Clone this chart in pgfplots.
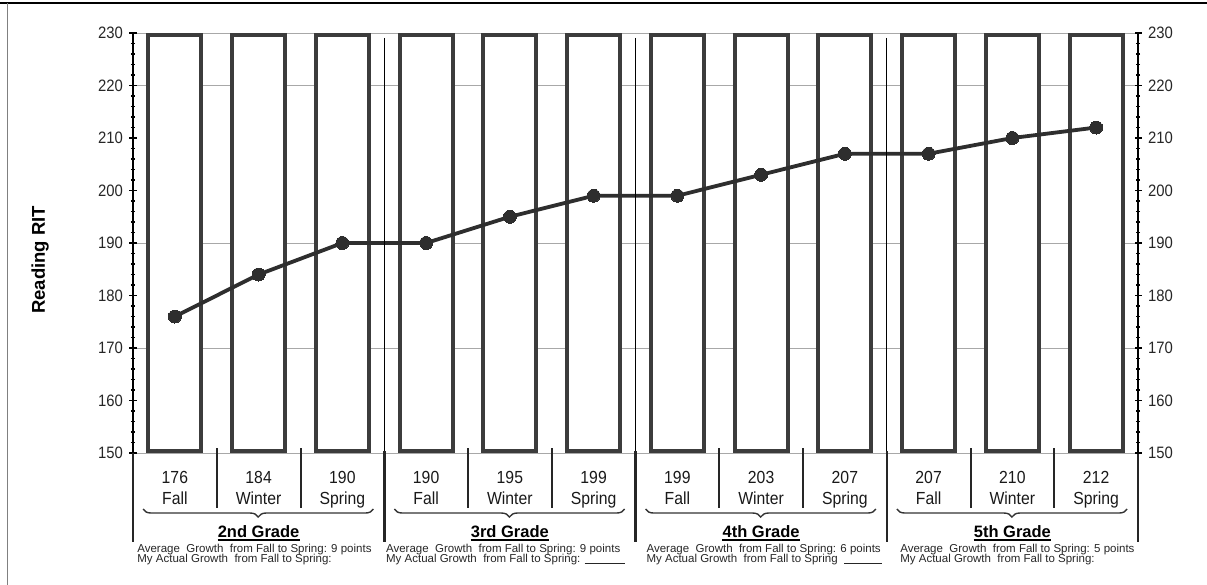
\documentclass[border=0pt]{standalone}
\usepackage{fontspec}
\setmainfont{Liberation Sans}
\newfontfamily\condfont[FakeStretch=0.9]{Liberation Sans}
\newfontfamily\tickfont[FakeStretch=0.9]{Liberation Sans}
\usepackage{pgfplots}
\pgfplotsset{compat=1.18}
\usetikzlibrary{decorations.pathreplacing}
\definecolor{bardk}{HTML}{3C3C3C}
\definecolor{linedk}{HTML}{2E2E2E}
\definecolor{gridg}{HTML}{A8A8A8}
\pgfplotsset{base/.style={
  at={(133pt,-453pt)}, anchor=south west,
  scale only axis, width=1005pt, height=420pt,
  xmin=-0.5, xmax=11.5, ymin=150, ymax=230,
}}
\newcommand{\slot}[3]{%
  \node[font=\condfont\fontsize{17.5}{17.5}\selectfont, text=black!90, anchor=base, inner sep=0pt] at (axis cs:#1,144.19) {#2};
  \node[font=\condfont\fontsize{17.5}{17.5}\selectfont, text=black!90, anchor=base, inner sep=0pt] at (axis cs:#1,140.19) {#3};}
\newcommand{\grade}[3]{%
  \node[font=\bfseries\fontsize{16.5}{16.5}\selectfont, inner sep=0pt, anchor=base] (#3) at (axis cs:#1,133.9) {#2};
  \draw[black, line width=1.8pt] ([yshift=-2.5pt]#3.base west) -- ([yshift=-2.5pt]#3.base east);}
\begin{document}
\begin{tikzpicture}[x=1pt,y=1pt]
\useasboundingbox (0,0) rectangle (1207,-585);
\draw[black, line width=1.2pt] (0,-3) -- (1207,-3);
\draw[gray, line width=1pt] (7,-3.5) -- (7,-585);

% grid and bars
\begin{axis}[base, clip=false,
  axis line style={draw=none},
  xtick=\empty, ytick={150,170,190,220,230}, yticklabels={},
  major tick length=0pt,
  ymajorgrids, major grid style={gridg, line width=1pt},
  ybar stacked, bar width=53pt]
\addplot[draw=none, fill=none] coordinates {(0,150.38) (1,150.38) (2,150.38) (3,150.38) (4,150.38) (5,150.38) (6,150.38) (7,150.38) (8,150.38) (9,150.38) (10,150.38) (11,150.38)};
\addplot[draw=bardk, line width=4pt, fill=white] coordinates {(0,79.24) (1,79.24) (2,79.24) (3,79.24) (4,79.24) (5,79.24) (6,79.24) (7,79.24) (8,79.24) (9,79.24) (10,79.24) (11,79.24)};
\end{axis}

% left axis, line, annotations
\begin{axis}[base, clip=false,
  axis y line*=left, axis x line=none,
  y axis line style={black, line width=1.3pt, -},
  xtick=\empty,
  ytick={150,160,...,230}, minor y tick num=4,
  tick align=center, major tick length=7pt, minor tick length=4pt,
  every tick/.style={black, line width=1.6pt},
  /pgf/number format/assume math mode=true,
  yticklabel style={font=\tickfont\fontsize{16.5}{16.5}\selectfont, text=black!85, xshift=-3pt},
  ylabel={Reading RIT},
  ylabel style={font=\bfseries\fontsize{18.5}{18.5}\selectfont, at={(axis description cs:-0.0925,0.46)}, anchor=center},
]
\addplot[color=linedk, line width=3.8pt, mark=*, mark size=6.5pt,
  mark options={fill=linedk, draw=linedk, line width=0pt}]
  coordinates {(0,176) (1,184) (2,190) (3,190) (4,195) (5,199) (6,199) (7,203) (8,207) (9,207) (10,210) (11,212)};

% separators
\foreach \xx in {0.5,1.5,3.5,4.5,6.5,7.5,9.5,10.5}{
  \edef\tmp{\noexpand\draw[black!85, line width=2pt] (axis cs:\xx,150.95) -- (axis cs:\xx,139.52);}\tmp}
\foreach \xx in {2.5,5.5,8.5}{
  \edef\tmp{\noexpand\draw[black, line width=1.3pt] (axis cs:\xx,229.05) -- (axis cs:\xx,150);
  \noexpand\draw[black!85, line width=2.5pt] (axis cs:\xx,150.3) -- (axis cs:\xx,133.05);}\tmp}
\draw[black!85, line width=2.5pt] (axis cs:-0.5,150) -- (axis cs:-0.5,133.05);
\draw[black!85, line width=2.5pt] (axis cs:11.5,150) -- (axis cs:11.5,133.05);

\slot{0}{176}{Fall}
\slot{1}{184}{Winter}
\slot{2}{190}{Spring}
\slot{3}{190}{Fall}
\slot{4}{195}{Winter}
\slot{5}{199}{Spring}
\slot{6}{199}{Fall}
\slot{7}{203}{Winter}
\slot{8}{207}{Spring}
\slot{9}{207}{Fall}
\slot{10}{210}{Winter}
\slot{11}{212}{Spring}

% braces
\foreach \gg in {0,3,6,9}{
  \edef\tmp{\noexpand\draw[black!80, line width=1.4pt, decorate, decoration={brace, mirror, amplitude=8pt}]
    (axis cs:\gg-0.38,139.33) -- (axis cs:\gg+2.37,139.33);}\tmp}

% grade labels
\grade{1}{2nd Grade}{ga}
\grade{4}{3rd Grade}{gb}
\grade{7}{4th Grade}{gc}
\grade{10}{5th Grade}{gd}

% growth notes
\node[font=\fontsize{11.5}{8}\selectfont, align=left, anchor=north west, inner sep=0pt, text=black!85] at (axis cs:-0.45,132.67)
  {Average\ \ Growth\ \ from Fall to Spring: 9 points\\[-1.5pt]My Actual Growth\ \ from Fall to Spring:};
\node[font=\fontsize{11.5}{8}\selectfont, align=left, anchor=north west, inner sep=0pt, text=black!85] at (axis cs:2.52,132.67)
  {Average\ \ Growth\ \ from Fall to Spring: 9 points\\[-1.5pt]My Actual Growth\ \ from Fall to Spring: \rule[-1pt]{40pt}{1pt}};
\node[font=\fontsize{11.5}{8}\selectfont, align=left, anchor=north west, inner sep=0pt, text=black!85] at (axis cs:5.63,132.67)
  {Average\ \ Growth\ \ from Fall to Spring: 6 points\\[-1.5pt]My Actual Growth\ \ from Fall to Spring\ \ \rule[-1pt]{38pt}{1pt}};
\node[font=\fontsize{11.5}{8}\selectfont, align=left, anchor=north west, inner sep=0pt, text=black!85] at (axis cs:8.66,132.67)
  {Average\ \ Growth\ \ from Fall to Spring: 5 points\\[-1.5pt]My Actual Growth\ \ from Fall to Spring:};
\end{axis}

% right axis
\begin{axis}[base,
  axis y line*=right, axis x line=none,
  y axis line style={black, line width=1.3pt, -},
  xtick=\empty,
  ytick={150,160,...,230}, minor y tick num=4,
  tick align=center, major tick length=7pt, minor tick length=4pt,
  every tick/.style={black, line width=1.6pt},
  /pgf/number format/assume math mode=true,
  yticklabel pos=right,
  yticklabel style={font=\tickfont\fontsize{16.5}{16.5}\selectfont, text=black!85, xshift=3pt},
]
\addplot[draw=none] coordinates {(0,150)};
\end{axis}
\end{tikzpicture}
\end{document}
